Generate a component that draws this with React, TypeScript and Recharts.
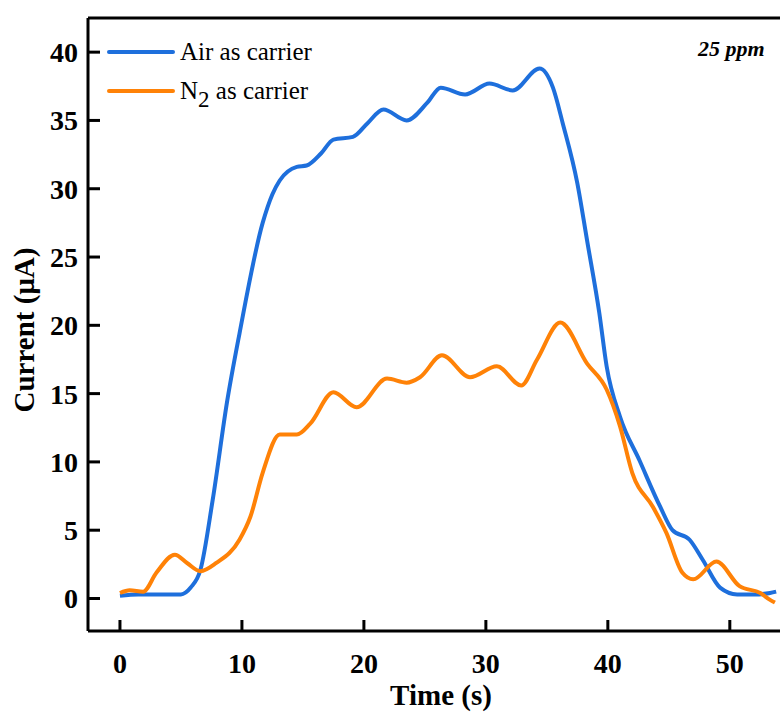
import React from 'react';
import { LineChart, Line, XAxis, YAxis, Legend, ReferenceLine } from 'recharts';

const airTime = [0, 1.5, 3, 5.0, 5.8, 6.6, 7.6, 8.8, 9.8, 11.7, 12.5, 13.1, 14.5, 15.3, 16.5, 17.5, 19.1, 20.3, 21.6, 23.5, 25.2, 26.3, 28.3, 30.3, 32.2, 34.4, 35.5, 36.3, 37.5, 38.3, 39.3, 39.9, 41.0, 42.6, 44.3, 45.3, 46.7, 47.8, 49.2, 50.6, 52.0, 53.3, 53.8];
const airCurrent = [0.2, 0.3, 0.3, 0.3, 0.8, 2.1, 7.2, 14.5, 19.4, 27.5, 29.6, 30.6, 31.6, 31.7, 32.6, 33.6, 33.8, 34.8, 35.8, 35.0, 36.3, 37.4, 36.9, 37.7, 37.2, 38.8, 37.4, 34.8, 30.4, 26.2, 20.9, 17.0, 13.3, 10.1, 6.7, 5.0, 4.3, 2.8, 0.8, 0.3, 0.3, 0.4, 0.5];

const n2Time = [0, 0.8, 1.9, 3.0, 4.5, 5.5, 6.6, 7.9, 9.8, 10.7, 11.7, 13.1, 14.5, 15.6, 17.5, 19.4, 21.9, 23.5, 24.6, 26.4, 28.7, 30.9, 32.9, 34.2, 36.1, 38.3, 39.9, 41.0, 42.0, 43.7, 44.8, 46.1, 47.0, 48.9, 50.8, 52.5, 53.3, 53.7];
const n2Current = [0.4, 0.6, 0.5, 1.9, 3.2, 2.6, 2.0, 2.6, 4.3, 6.0, 9.2, 12.0, 12.0, 12.8, 15.1, 14.0, 16.1, 15.8, 16.2, 17.8, 16.2, 17.0, 15.6, 17.5, 20.2, 17.2, 15.3, 12.6, 9.2, 6.7, 4.8, 1.9, 1.4, 2.7, 0.9, 0.4, -0.1, -0.3];

const xTicks = [0, 10, 20, 30, 40, 50];
const yTicks = [0, 5, 10, 15, 20, 25, 30, 35, 40];

const AIR_COLOR = '#1e6fdc';
const N2_COLOR = '#ff8207';
const FONT = "'Liberation Serif', 'Times New Roman', serif";

const airData = airTime.map((t, i) => ({ t, v: airCurrent[i] }));
const n2Data = n2Time.map((t, i) => ({ t, v: n2Current[i] }));

const XTick = (props: any) => {
  const { x, y, payload } = props;
  return (
    <g>
      <line x1={x} y1={y} x2={x} y2={y - 11} stroke="#000" strokeWidth={3} />
      <text x={x} y={y + 42} textAnchor="middle" fontFamily={FONT} fontWeight="bold" fontSize={28} fill="#000">
        {payload.value}
      </text>
    </g>
  );
};

const YTick = (props: any) => {
  const { x, y, payload } = props;
  return (
    <g>
      <line x1={x} y1={y} x2={x + 12} y2={y} stroke="#000" strokeWidth={3} />
      <text x={x - 10} y={y + 10} textAnchor="end" fontFamily={FONT} fontWeight="bold" fontSize={28} fill="#000">
        {payload.value}
      </text>
    </g>
  );
};

const renderLegend = () => (
  <div style={{ fontFamily: FONT, fontSize: 25, color: '#000', lineHeight: 1 }}>
    {[
      { color: AIR_COLOR, label: <span>Air as carrier</span> },
      {
        color: N2_COLOR,
        label: (
          <span>
            N<span style={{ position: 'relative', top: 8, fontSize: '0.92em' }}>2</span> as carrier
          </span>
        ),
      },
    ].map((item, i) => (
      <div key={i} style={{ display: 'flex', alignItems: 'center', height: 39, whiteSpace: 'nowrap' }}>
        <span style={{ display: 'inline-block', width: 68, height: 4, background: item.color, borderRadius: 2 }} />
        <span style={{ marginLeft: 5 }}>{item.label}</span>
      </div>
    ))}
  </div>
);

export default function App() {
  return (
    <div style={{ position: 'absolute', left: 0, top: 0, width: 780, height: 715, overflow: 'hidden', background: '#fff' }}>
      <LineChart width={820} height={715} margin={{ top: 18, right: 17, bottom: 0, left: 0 }}>
        <XAxis
          dataKey="t"
          type="number"
          domain={[-2.62, 56]}
          ticks={xTicks}
          allowDataOverflow
          height={84}
          tickSize={0}
          tickMargin={0}
          tick={<XTick />}
          axisLine={{ stroke: '#000', strokeWidth: 3 }}
          label={{
            content: () => (
              <text x={441} y={705} textAnchor="middle" fontFamily={FONT} fontWeight="bold" fontSize={29} fill="#000">
                Time (s)
              </text>
            ),
          }}
        />
        <YAxis
          type="number"
          domain={[-2.38, 42.5]}
          ticks={yTicks}
          allowDataOverflow
          width={88}
          tickSize={0}
          tickMargin={0}
          tick={<YTick />}
          axisLine={{ stroke: '#000', strokeWidth: 3 }}
          label={{
            content: () => (
              <text
                x={24}
                y={330}
                transform="rotate(-90 24 330)"
                textAnchor="middle"
                dominantBaseline="central"
                fontFamily={FONT}
                fontWeight="bold"
                fontSize={29}
                fill="#000"
              >
                Current (μA)
              </text>
            ),
          }}
        />
        <ReferenceLine y={42.5} stroke="#000" strokeWidth={3} ifOverflow="visible" />
        <Legend
          layout="vertical"
          align="center"
          verticalAlign="middle"
          content={renderLegend}
          wrapperStyle={{ top: 32, left: 107, width: 'auto' }}
        />
        <Line
          data={airData}
          dataKey="v"
          type="monotone"
          stroke={AIR_COLOR}
          strokeWidth={4}
          dot={false}
          isAnimationActive={false}
        />
        <Line
          data={n2Data}
          dataKey="v"
          type="monotone"
          stroke={N2_COLOR}
          strokeWidth={4}
          dot={false}
          isAnimationActive={false}
        />
      </LineChart>
      <div
        style={{
          position: 'absolute',
          left: 698,
          top: 36,
          fontFamily: FONT,
          fontWeight: 'bold',
          fontStyle: 'italic',
          fontSize: 22,
          color: '#000',
          whiteSpace: 'nowrap',
        }}
      >
        25 ppm
      </div>
    </div>
  );
}
